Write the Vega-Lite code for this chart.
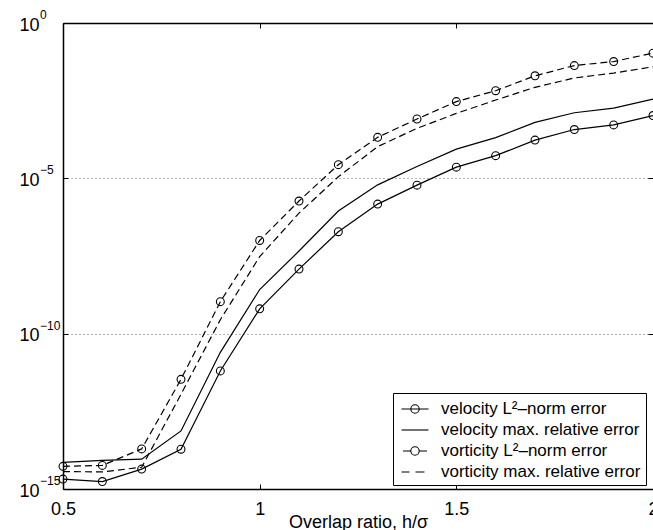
{
  "$schema": "https://vega.github.io/schema/vega-lite/v6.json",
  "width": 590,
  "height": 466,
  "autosize": {"type": "none"},
  "padding": {"left": 63, "top": 23, "right": 0, "bottom": 41},
  "background": "white",
  "config": {
    "view": {"stroke": null},
    "font": "Liberation Sans",
    "axis": {
      "labelFont": "Liberation Sans",
      "titleFont": "Liberation Sans",
      "labelColor": "black",
      "titleColor": "black",
      "domainColor": "black",
      "tickColor": "black",
      "titleFontWeight": "normal"
    }
  },
  "datasets": {
    "errors": [
      {"ratio": 0.5, "series": "velocity L²–norm error", "err": 2.09e-15},
      {"ratio": 0.6, "series": "velocity L²–norm error", "err": 1.74e-15},
      {"ratio": 0.7, "series": "velocity L²–norm error", "err": 4.37e-15},
      {"ratio": 0.8, "series": "velocity L²–norm error", "err": 1.91e-14},
      {"ratio": 0.9, "series": "velocity L²–norm error", "err": 6.31e-12},
      {"ratio": 1.0, "series": "velocity L²–norm error", "err": 6.31e-10},
      {"ratio": 1.1, "series": "velocity L²–norm error", "err": 1.2e-8},
      {"ratio": 1.2, "series": "velocity L²–norm error", "err": 1.91e-7},
      {"ratio": 1.3, "series": "velocity L²–norm error", "err": 1.48e-6},
      {"ratio": 1.4, "series": "velocity L²–norm error", "err": 6.03e-6},
      {"ratio": 1.5, "series": "velocity L²–norm error", "err": 2.29e-5},
      {"ratio": 1.6, "series": "velocity L²–norm error", "err": 5.37e-5},
      {"ratio": 1.7, "series": "velocity L²–norm error", "err": 1.7e-4},
      {"ratio": 1.8, "series": "velocity L²–norm error", "err": 3.72e-4},
      {"ratio": 1.9, "series": "velocity L²–norm error", "err": 5.25e-4},
      {"ratio": 2.0, "series": "velocity L²–norm error", "err": 1.05e-3},
      {"ratio": 0.5, "series": "velocity max. relative error", "err": 7.24e-15},
      {"ratio": 0.6, "series": "velocity max. relative error", "err": 8.32e-15},
      {"ratio": 0.7, "series": "velocity max. relative error", "err": 9.12e-15},
      {"ratio": 0.8, "series": "velocity max. relative error", "err": 7.41e-14},
      {"ratio": 0.9, "series": "velocity max. relative error", "err": 2.51e-11},
      {"ratio": 1.0, "series": "velocity max. relative error", "err": 2.63e-9},
      {"ratio": 1.1, "series": "velocity max. relative error", "err": 4.57e-8},
      {"ratio": 1.2, "series": "velocity max. relative error", "err": 8.91e-7},
      {"ratio": 1.3, "series": "velocity max. relative error", "err": 6.17e-6},
      {"ratio": 1.4, "series": "velocity max. relative error", "err": 2.4e-5},
      {"ratio": 1.5, "series": "velocity max. relative error", "err": 8.71e-5},
      {"ratio": 1.6, "series": "velocity max. relative error", "err": 2.04e-4},
      {"ratio": 1.7, "series": "velocity max. relative error", "err": 6.31e-4},
      {"ratio": 1.8, "series": "velocity max. relative error", "err": 1.29e-3},
      {"ratio": 1.9, "series": "velocity max. relative error", "err": 1.82e-3},
      {"ratio": 2.0, "series": "velocity max. relative error", "err": 3.55e-3},
      {"ratio": 0.5, "series": "vorticity L²–norm error", "err": 5.37e-15},
      {"ratio": 0.6, "series": "vorticity L²–norm error", "err": 5.75e-15},
      {"ratio": 0.7, "series": "vorticity L²–norm error", "err": 1.95e-14},
      {"ratio": 0.8, "series": "vorticity L²–norm error", "err": 3.39e-12},
      {"ratio": 0.9, "series": "vorticity L²–norm error", "err": 1.07e-9},
      {"ratio": 1.0, "series": "vorticity L²–norm error", "err": 1.0e-7},
      {"ratio": 1.1, "series": "vorticity L²–norm error", "err": 1.86e-6},
      {"ratio": 1.2, "series": "vorticity L²–norm error", "err": 2.75e-5},
      {"ratio": 1.3, "series": "vorticity L²–norm error", "err": 2.09e-4},
      {"ratio": 1.4, "series": "vorticity L²–norm error", "err": 8.13e-4},
      {"ratio": 1.5, "series": "vorticity L²–norm error", "err": 2.95e-3},
      {"ratio": 1.6, "series": "vorticity L²–norm error", "err": 6.61e-3},
      {"ratio": 1.7, "series": "vorticity L²–norm error", "err": 2.0e-2},
      {"ratio": 1.8, "series": "vorticity L²–norm error", "err": 4.27e-2},
      {"ratio": 1.9, "series": "vorticity L²–norm error", "err": 5.75e-2},
      {"ratio": 2.0, "series": "vorticity L²–norm error", "err": 1.07e-1},
      {"ratio": 0.5, "series": "vorticity max. relative error", "err": 3.63e-15},
      {"ratio": 0.6, "series": "vorticity max. relative error", "err": 3.55e-15},
      {"ratio": 0.7, "series": "vorticity max. relative error", "err": 5.01e-15},
      {"ratio": 0.8, "series": "vorticity max. relative error", "err": 1.12e-12},
      {"ratio": 0.9, "series": "vorticity max. relative error", "err": 2.82e-10},
      {"ratio": 1.0, "series": "vorticity max. relative error", "err": 3.02e-8},
      {"ratio": 1.1, "series": "vorticity max. relative error", "err": 7.59e-7},
      {"ratio": 1.2, "series": "vorticity max. relative error", "err": 1.12e-5},
      {"ratio": 1.3, "series": "vorticity max. relative error", "err": 1.05e-4},
      {"ratio": 1.4, "series": "vorticity max. relative error", "err": 4.07e-4},
      {"ratio": 1.5, "series": "vorticity max. relative error", "err": 1.23e-3},
      {"ratio": 1.6, "series": "vorticity max. relative error", "err": 3.31e-3},
      {"ratio": 1.7, "series": "vorticity max. relative error", "err": 8.51e-3},
      {"ratio": 1.8, "series": "vorticity max. relative error", "err": 1.7e-2},
      {"ratio": 1.9, "series": "vorticity max. relative error", "err": 2.45e-2},
      {"ratio": 2.0, "series": "vorticity max. relative error", "err": 3.89e-2}
    ],
    "decades": [
      {"err": 1, "exp": "0"},
      {"err": 1e-5, "exp": "−5"},
      {"err": 1e-10, "exp": "−10"},
      {"err": 1e-15, "exp": "−15"}
    ]
  },
  "layer": [
    {
      "data": {"name": "errors"},
      "transform": [
        {"filter": {"field": "series", "oneOf": ["velocity L²–norm error", "velocity max. relative error"]}}
      ],
      "mark": {"type": "line", "color": "black", "strokeWidth": 1.2},
      "encoding": {
        "x": {
          "field": "ratio",
          "type": "quantitative",
          "scale": {"domain": [0.5, 2], "nice": false, "zero": false},
          "axis": {
            "orient": "bottom",
            "values": [0.5, 1, 1.5, 2],
            "format": "~g",
            "grid": false,
            "domainWidth": 1.5,
            "tickSize": -5,
            "tickWidth": 1,
            "labelFontSize": 18,
            "labelPadding": 16,
            "labelFlush": false,
            "labelOverlap": false,
            "labelBound": false,
            "title": "Overlap ratio, h/σ",
            "titleFontSize": 18,
            "titleBaseline": "alphabetic",
            "titleY": 38
          }
        },
        "y": {
          "field": "err",
          "type": "quantitative",
          "scale": {"type": "log", "domain": [1e-15, 1], "nice": false},
          "axis": {
            "orient": "left",
            "values": [1e-15, 1e-10, 1e-5, 1],
            "labelExpr": "'10'",
            "grid": true,
            "gridColor": "#666666",
            "gridDash": [1, 3],
            "gridWidth": 1,
            "domainWidth": 1.5,
            "tickSize": -5,
            "tickWidth": 1,
            "labelFontSize": 18,
            "labelPadding": 29,
            "labelOffset": 2,
            "labelFlush": false,
            "labelOverlap": false,
            "labelBound": false,
            "title": null
          }
        },
        "detail": {"field": "series", "type": "nominal"}
      }
    },
    {
      "data": {"name": "errors"},
      "transform": [
        {"filter": {"field": "series", "oneOf": ["vorticity L²–norm error", "vorticity max. relative error"]}}
      ],
      "mark": {"type": "line", "color": "black", "strokeWidth": 1.2, "strokeDash": [7, 4]},
      "encoding": {
        "x": {"field": "ratio", "type": "quantitative", "axis": null},
        "y": {"field": "err", "type": "quantitative", "axis": null},
        "detail": {"field": "series", "type": "nominal"}
      }
    },
    {
      "data": {"name": "errors"},
      "transform": [
        {"filter": {"field": "series", "oneOf": ["velocity L²–norm error", "vorticity L²–norm error"]}}
      ],
      "mark": {"type": "point", "shape": "circle", "filled": false, "color": "black", "opacity": 1, "size": 62, "strokeWidth": 1.1},
      "encoding": {
        "x": {
          "field": "ratio",
          "type": "quantitative",
          "axis": {"orient": "top", "values": [0.5, 1, 1.5, 2], "labels": false, "grid": false, "domainWidth": 1.5, "tickSize": -5, "tickWidth": 1, "title": null}
        },
        "y": {
          "field": "err",
          "type": "quantitative",
          "axis": {"orient": "right", "values": [1e-15, 1e-10, 1e-5, 1], "labels": false, "grid": false, "domain": false, "tickSize": -5, "tickWidth": 1, "title": null}
        }
      }
    },
    {
      "data": {"name": "errors"},
      "mark": {"type": "point", "filled": false, "color": "black", "strokeOpacity": 0, "fillOpacity": 0, "size": 400},
      "encoding": {
        "x": {"field": "ratio", "type": "quantitative", "axis": null},
        "y": {"field": "err", "type": "quantitative", "axis": null},
        "shape": {
          "field": "series",
          "type": "nominal",
          "scale": {
            "domain": ["velocity L²–norm error", "velocity max. relative error", "vorticity L²–norm error", "vorticity max. relative error"],
            "range": [
              "M-1.35,0L-0.42,0M0.42,0L1.35,0M0.42,0C0.42,0.232,0.232,0.42,0,0.42C-0.232,0.42,-0.42,0.232,-0.42,0L0.42,0M-0.42,0C-0.42,-0.232,-0.232,-0.42,0,-0.42C0.232,-0.42,0.42,-0.232,0.42,0",
              "M-1.35,0L1.35,0",
              "M-1.2,0L-0.42,0M0.42,0L1.2,0M0.42,0C0.42,0.232,0.232,0.42,0,0.42C-0.232,0.42,-0.42,0.232,-0.42,0M-0.42,0C-0.42,-0.232,-0.232,-0.42,0,-0.42C0.232,-0.42,0.42,-0.232,0.42,0",
              "M-1.35,0L-0.55,0M0.05,0L0.95,0"
            ]
          },
          "legend": {
            "title": null,
            "orient": "none",
            "legendX": 330,
            "legendY": 370,
            "strokeColor": "black",
            "fillColor": "white",
            "cornerRadius": 0,
            "padding": 5,
            "rowPadding": 2,
            "symbolSize": 400,
            "symbolOffset": 6,
            "symbolStrokeWidth": 1.1,
            "symbolStrokeColor": "black",
            "symbolFillColor": "transparent",
            "labelFont": "Liberation Sans",
            "labelFontSize": 17,
            "labelColor": "black",
            "labelLimit": 400,
            "labelOffset": 15,
            "encode": {
              "symbols": {
                "update": {
                  "opacity": {"value": 1},
                  "strokeOpacity": {"value": 1},
                  "fillOpacity": {"value": 0},
                  "stroke": {"value": "black"},
                  "strokeWidth": {"value": 1.1}
                }
              }
            }
          }
        }
      }
    },
    {
      "data": {"name": "decades"},
      "mark": {"type": "text", "align": "left", "baseline": "middle", "dx": -23, "dy": -8, "font": "Liberation Sans", "fontSize": 12, "color": "black"},
      "encoding": {
        "x": {"datum": 0.5, "type": "quantitative", "axis": null},
        "y": {"field": "err", "type": "quantitative", "axis": null},
        "text": {"field": "exp"}
      }
    }
  ],
  "resolve": {"axis": {"x": "independent", "y": "independent"}}
}
